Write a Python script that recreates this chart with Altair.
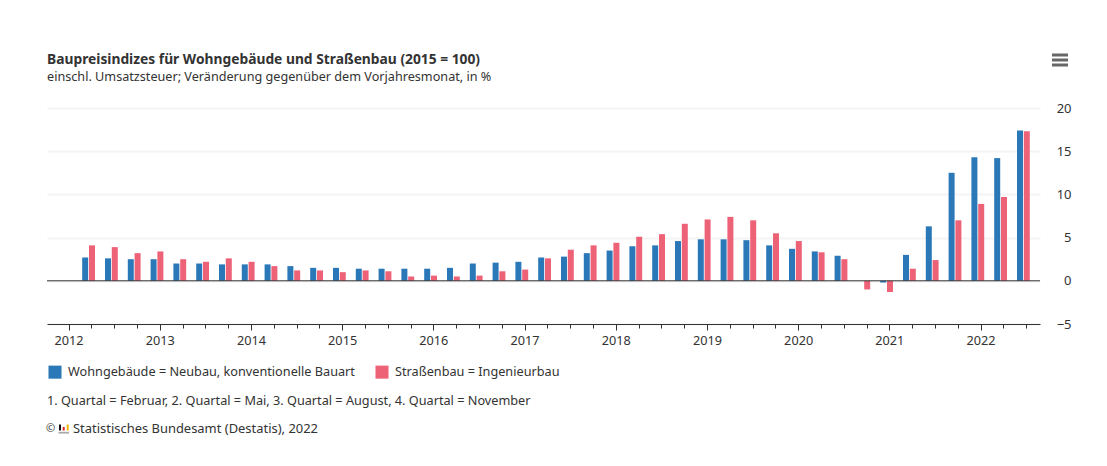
import altair as alt
import pandas as pd

TITLE = "Baupreisindizes für Wohngebäude und Straßenbau (2015 = 100)"
SUBTITLE = "einschl. Umsatzsteuer; Veränderung gegenüber dem Vorjahresmonat, in %"
FOOT1 = "1. Quartal = Februar, 2. Quartal = Mai, 3. Quartal = August, 4. Quartal = November"
FOOT2 = "Statistisches Bundesamt (Destatis), 2022"
S1 = "Wohngebäude = Neubau, konventionelle Bauart"
S2 = "Straßenbau = Ingenieurbau"
FONT = "Noto Sans"
BLUE = "#2a78b8"
RED = "#ee6278"
INK = "#333333"
TXT = 12.7

wohn = [2.7, 2.6, 2.5, 2.5, 2.0, 2.0, 1.9, 1.9, 1.9, 1.7, 1.5, 1.5, 1.4, 1.4, 1.4, 1.4, 1.5, 2.0, 2.1, 2.2, 2.7,
        2.8, 3.2, 3.5, 4.0, 4.1, 4.6, 4.8, 4.8, 4.7, 4.1, 3.7, 3.4, 2.9, 0.0, -0.2, 3.0, 6.3, 12.5, 14.3, 14.2, 17.4]
strasse = [4.1, 3.9, 3.2, 3.4, 2.5, 2.2, 2.6, 2.2, 1.7, 1.2, 1.2, 1.0, 1.2, 1.1, 0.5, 0.6, 0.5, 0.6, 1.1, 1.3, 2.6,
           3.6, 4.1, 4.4, 5.1, 5.4, 6.6, 7.1, 7.4, 7.0, 5.5, 4.6, 3.3, 2.5, -1.0, -1.3, 1.4, 2.4, 7.0, 8.9, 9.7, 17.3]
quarter_ticks = [2012 + i / 4 for i in range(43)]
first_group = 2012.22
pos = [first_group + i / 4 for i in range(len(wohn))]

d1 = pd.DataFrame({"pos": pos, "v": wohn, "s": S1})
d2 = pd.DataFrame({"pos": pos, "v": strasse, "s": S2})

x_scale = alt.Scale(domain=[2011.764, 2022.652], nice=False, zero=False, padding=0)
y_scale = alt.Scale(domain=[-5, 20], nice=False)
color = alt.Color("s:N", scale=alt.Scale(domain=[S1, S2], range=[BLUE, RED]),
                  legend=alt.Legend(orient="none", legendX=1, legendY=257, direction="horizontal",
                                    title=None, symbolType="square", symbolSize=170, symbolOpacity=1,
                                    symbolStrokeWidth=0, labelFont=FONT, labelFontSize=TXT, labelColor=INK,
                                    columnPadding=20, labelOffset=6, labelLimit=400))

x_axis = alt.Axis(values=quarter_ticks, tickCount=60, title=None, grid=False, domainColor=INK, domainWidth=1,
                  tickColor=INK, tickWidth=1,
                  tickSize={"condition": {"test": "datum.value % 1 === 0", "value": 6}, "value": 4},
                  labelExpr="datum.value % 1 === 0 ? format(datum.value, 'd') : ''",
                  labelFont=FONT, labelFontSize=TXT, labelColor=INK, labelPadding=4, labelFlush=False,
                  labelOverlap=False)
y_axis = alt.Axis(values=[-5, 0, 5, 10, 15, 20], orient="right", title=None, grid=True, gridColor="#f4f4f4",
                  gridWidth=2, domain=False, ticks=False, labelFont=FONT, labelFontSize=13, labelColor=INK,
                  labelAlign="right", labelPadding=31)

blue = alt.Chart(d1).mark_bar(size=6, xOffset=-3.4).encode(
    x=alt.X("pos:Q", scale=x_scale, axis=x_axis),
    y=alt.Y("v:Q", scale=y_scale, axis=y_axis),
    color=color)
red = alt.Chart(d2).mark_bar(size=6, xOffset=3.4).encode(
    x=alt.X("pos:Q", scale=x_scale),
    y=alt.Y("v:Q", scale=y_scale),
    color=color)
zero = alt.Chart(pd.DataFrame({"z": [0]})).mark_rule(color=INK, strokeWidth=1).encode(y=alt.Y("z:Q", scale=y_scale))


def label(text, px, py, size=TXT, color=INK):
    return alt.Chart(pd.DataFrame({"t": [text]})).mark_text(
        align="left", baseline="middle", font=FONT, fontSize=size, color=color
    ).encode(x=alt.value(px), y=alt.value(py), text="t:N")


def bar_rule(x1, x2, y, c, w):
    return alt.Chart(pd.DataFrame({"a": [0]})).mark_rule(color=c, strokeWidth=w).encode(
        x=alt.value(x1), x2=alt.value(x2), y=alt.value(y))


def vrule(x, y1, y2, c, w):
    return alt.Chart(pd.DataFrame({"a": [0]})).mark_rule(color=c, strokeWidth=w).encode(
        x=alt.value(x), y=alt.value(y1), y2=alt.value(y2))


layers = [blue, red, zero,
          label(FOOT1, 0, 293),
          label("©", -1, 320.5, 11),
          label(FOOT2, 26, 320.5, 12.95),
          vrule(13, 316.5, 322.5, "#111111", 2),
          vrule(16.7, 319, 322.5, "#d9262c", 2),
          vrule(20.7, 316.5, 322.5, "#f2b705", 2),
          bar_rule(11.5, 22, 324.7, "#aaaaaa", 1.8),
          bar_rule(1005, 1021, -53, "#666666", 3),
          bar_rule(1005, 1021, -48, "#666666", 3),
          bar_rule(1005, 1021, -43, "#666666", 3)]

chart = alt.layer(*layers).properties(
    width=993, height=216,
    autosize=alt.AutoSizeParams(type="none"),
    padding={"left": 39, "top": 100, "right": 50, "bottom": 115},
    title=alt.TitleParams(TITLE, subtitle=SUBTITLE, anchor="start", frame="group", font=FONT, fontSize=13.8,
                          fontWeight="bold", color=INK, subtitleFont=FONT, subtitleFontSize=12.65,
                          subtitleColor=INK, subtitlePadding=4, offset=-30),
).configure_view(stroke=None)

chart.save("out.html", embed_options={"renderer": "svg", "actions": False})
